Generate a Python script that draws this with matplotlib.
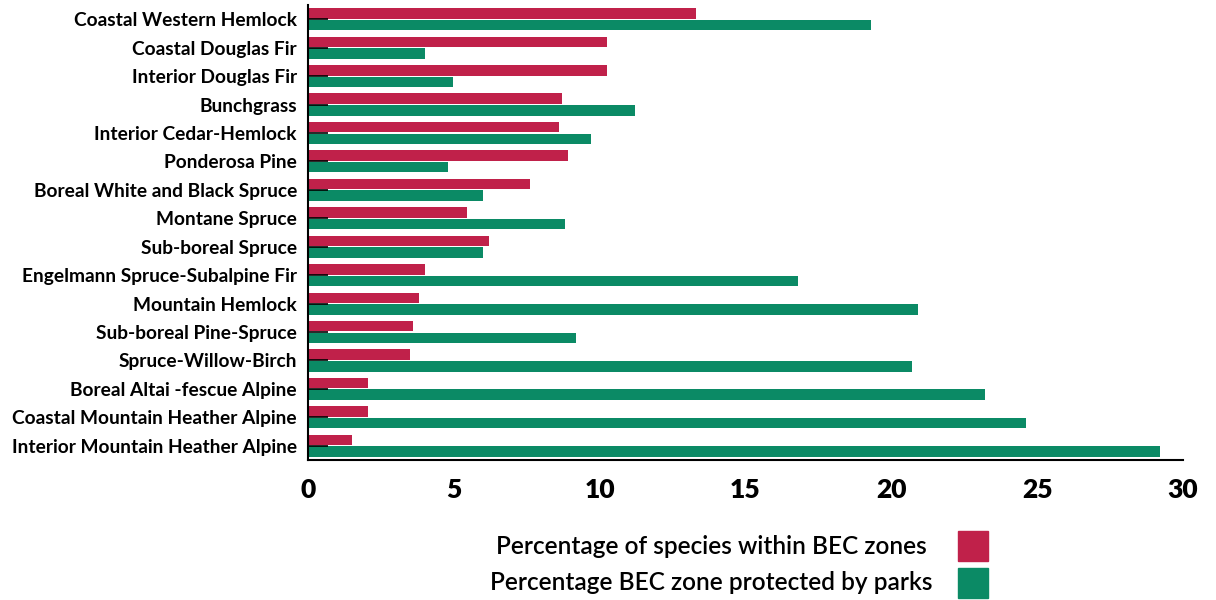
import numpy as np
import matplotlib.pyplot as plt
from matplotlib.patches import Rectangle

plt.rcParams['font.family'] = ['Lato', 'DejaVu Sans']

zones = ['Coastal Western Hemlock', 'Coastal Douglas Fir', 'Interior Douglas Fir',
         'Bunchgrass', 'Interior Cedar-Hemlock', 'Ponderosa Pine',
         'Boreal White and Black Spruce', 'Montane Spruce', 'Sub-boreal Spruce',
         'Engelmann Spruce-Subalpine Fir', 'Mountain Hemlock', 'Sub-boreal Pine-Spruce',
         'Spruce-Willow-Birch', 'Boreal Altai -fescue Alpine',
         'Coastal Mountain Heather Alpine', 'Interior Mountain Heather Alpine']

species_pct = [13.3, 10.25, 10.25, 8.7, 8.6, 8.93, 7.62, 5.45, 6.2,
               4.02, 3.81, 3.6, 3.5, 2.05, 2.05, 1.5]
protected_pct = [19.3, 4.0, 4.97, 11.2, 9.7, 4.8, 6.0, 8.81, 6.0,
                 16.8, 20.9, 9.19, 20.7, 23.2, 24.6, 29.2]

series_labels = ['Percentage of species within BEC zones',
                 'Percentage BEC zone protected by parks']
colors = ['#C0214A', '#0B8A65']

fig = plt.figure(figsize=(12.16, 6.0), dpi=100)
ax = fig.add_axes([0.2533, 0.2333, 0.9729 - 0.2533, 0.9917 - 0.2333])

y = np.arange(len(zones))
h = 0.37
ax.barh(y - 0.205, species_pct, height=h, color=colors[0])
ax.barh(y + 0.205, protected_pct, height=h, color=colors[1])

ax.set_xlim(0, 30)
ax.set_ylim(len(zones) - 0.5, -0.5)
ax.set_xticks([0, 5, 10, 15, 20, 25, 30])
ax.set_yticks(y)
ax.set_yticklabels(zones, fontsize=13.8, fontweight='bold')
ax.tick_params(axis='y', direction='in', length=14.5, width=1.2, color='black', pad=8)
ax.tick_params(axis='x', length=0, pad=13, labelsize=19)
for lbl in ax.get_xticklabels():
    lbl.set_fontweight('heavy')

for s in ['top', 'right']:
    ax.spines[s].set_visible(False)
ax.spines['left'].set_linewidth(1.5)
ax.spines['bottom'].set_linewidth(1.5)

# legend block under the axis
W, H = 1216, 600
rows_y = [546, 583]
for lab, c, yy in zip(series_labels, colors, rows_y):
    fig.text(711 / W, 1 - yy / H, lab, ha='center', va='center',
             fontsize=17.6, fontweight='semibold')
    fig.patches.append(Rectangle((958 / W, 1 - (yy + 15) / H), 30 / W, 30 / H,
                                 transform=fig.transFigure, color=c))

fig.savefig('out.png', dpi=100)
